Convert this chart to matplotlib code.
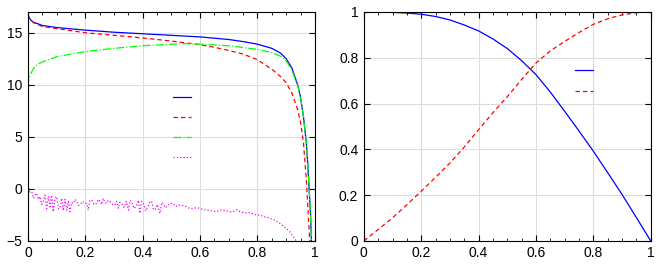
import matplotlib
matplotlib.use('agg')
import matplotlib.pyplot as plt
from matplotlib.ticker import MultipleLocator

plt.rcParams['font.family'] = ['Liberation Sans', 'DejaVu Sans']

# left panel
xb = [0, 0.005, 0.01, 0.02, 0.05, 0.1, 0.2, 0.3, 0.4, 0.5, 0.6, 0.7, 0.75, 0.8, 0.85,
      0.88, 0.9, 0.92, 0.94, 0.95, 0.96, 0.97, 0.975, 0.98, 0.985, 0.988]
yb = [16.7, 16.4, 16.2, 16.0, 15.7, 15.5, 15.25, 15.05, 14.9, 14.75, 14.6, 14.35, 14.15,
      13.9, 13.5, 13.05, 12.5, 11.6, 10.0, 8.8, 7.0, 4.5, 2.5, 0.0, -2.5, -5.0]

xr = [0, 0.005, 0.01, 0.02, 0.05, 0.1, 0.2, 0.3, 0.4, 0.5, 0.6, 0.65, 0.7, 0.75, 0.8,
      0.85, 0.88, 0.9, 0.92, 0.94, 0.95, 0.96, 0.97, 0.975, 0.98, 0.982]
yr = [16.7, 16.4, 16.2, 15.95, 15.6, 15.4, 15.0, 14.75, 14.5, 14.2, 13.85, 13.6, 13.3,
      12.95, 12.4, 11.5, 10.8, 10.2, 9.2, 7.6, 6.4, 4.5, 1.0, -1.5, -4.0, -5.0]

xg = [0, 0.003, 0.01, 0.02, 0.03, 0.05, 0.1, 0.15, 0.2, 0.3, 0.4, 0.5, 0.55, 0.6, 0.7,
      0.8, 0.85, 0.88, 0.9, 0.92, 0.94, 0.95, 0.96, 0.97, 0.975, 0.98, 0.985, 0.988]
yg = [9.8, 10.6, 11.1, 11.6, 11.9, 12.2, 12.7, 12.95, 13.2, 13.5, 13.75, 13.9, 13.95,
      13.9, 13.75, 13.4, 13.1, 12.75, 12.3, 11.4, 9.9, 8.8, 7.0, 4.5, 2.5, 0.0, -2.5, -5.0]

xm = [0, 0.006, 0.013, 0.019, 0.025, 0.030, 0.036, 0.042, 0.048, 0.053, 0.059, 0.065,
      0.071, 0.077, 0.082, 0.088, 0.094, 0.10, 0.106, 0.111, 0.117, 0.123, 0.129, 0.135,
      0.141, 0.146, 0.152, 0.158, 0.164, 0.17, 0.176, 0.181, 0.19, 0.198, 0.204, 0.21,
      0.216, 0.222, 0.23, 0.239, 0.245, 0.251, 0.257, 0.262, 0.268, 0.274, 0.28, 0.286,
      0.295, 0.303, 0.309, 0.315, 0.32, 0.326, 0.335, 0.343, 0.35, 0.356, 0.361, 0.37,
      0.379, 0.385, 0.39, 0.396, 0.402, 0.41, 0.419, 0.425, 0.431, 0.437, 0.443, 0.45,
      0.46, 0.466, 0.472, 0.478, 0.483, 0.495, 0.506, 0.515, 0.524, 0.54, 0.553, 0.565,
      0.576, 0.588, 0.599, 0.61, 0.623, 0.64, 0.657, 0.675, 0.692, 0.705, 0.715, 0.728,
      0.739, 0.755, 0.774, 0.785, 0.797, 0.81, 0.82, 0.83, 0.843, 0.86, 0.878, 0.895,
      0.913, 0.922, 0.93, 0.936]
ym = [0.4, -0.3, -0.26, -0.9, -0.58, -0.42, -1.0, -0.74, -1.5, -1.23, -0.6, -1.9,
      -0.7, -1.71, -0.6, -2.19, -0.9, -0.74, -1.9, -1.87, -0.9, -2.1, -1.0, -2.03,
      -1.2, -2.19, -1.3, -1.39, -1.0, -1.23, -1.6, -1.55, -1.2, -1.4, -1.39, -2.03,
      -1.1, -1.06, -1.5, -1.39, -1.0, -1.23, -1.5, -0.9, -1.3, -1.39, -1.1, -1.23,
      -1.5, -1.55, -1.2, -1.87, -1.3, -1.39, -1.8, -1.2, -2.03, -1.1, -1.23, -1.9,
      -1.55, -1.1, -2.35, -1.2, -1.39, -2.1, -1.71, -1.2, -1.23, -1.9, -2.03, -1.5,
      -2.35, -1.3, -1.39, -1.8, -1.71, -1.4, -1.39, -1.7, -1.55, -1.6, -1.71, -1.9,
      -1.87, -1.8, -1.87, -2.0, -2.03, -2.1, -2.19, -2.0, -2.13, -2.2, -2.19, -2.0,
      -2.19, -2.3, -2.29, -2.4, -2.52, -2.5, -2.68, -2.7, -2.84, -3.0, -3.32, -3.7,
      -4.13, -4.5, -4.77, -5.1]

# right panel
xs = [0, 0.05, 0.1, 0.15, 0.2, 0.25, 0.3, 0.35, 0.4, 0.45, 0.5, 0.55, 0.6, 0.65, 0.7,
      0.75, 0.8, 0.85, 0.9, 0.95, 1.0]
ys_blue = [1.0, 1.0, 0.998, 0.995, 0.99, 0.98, 0.965, 0.943, 0.917, 0.882, 0.84,
           0.787, 0.726, 0.65, 0.566, 0.48, 0.392, 0.298, 0.203, 0.102, 0.0]
ys_red = [0.0, 0.05, 0.101, 0.158, 0.217, 0.278, 0.34, 0.41, 0.486, 0.56, 0.63, 0.705,
          0.777, 0.83, 0.871, 0.91, 0.946, 0.97, 0.987, 0.997, 1.0]

fig = plt.figure(figsize=(6.64, 2.71), dpi=100)
ax1 = fig.add_axes([0.0422, 0.111, 0.432, 0.845])
ax2 = fig.add_axes([0.548, 0.111, 0.432, 0.845])

lw = 0.9
dash = (0, (3.5, 2.5))
h1, = ax1.plot(xb, yb, color='#0000ff', lw=lw)
h2, = ax1.plot(xr, yr, color='#ff0000', lw=lw, ls=dash)
h3, = ax1.plot(xg, yg, color='#00ff00', lw=lw, ls='-.')
h4, = ax1.plot(xm, ym, color='#ff00ff', lw=lw, ls=':')
ax1.set_xlim(0, 1)
ax1.set_ylim(-5, 17)
ax1.yaxis.set_major_locator(MultipleLocator(5))
ax1.legend([h1, h2, h3, h4], ['', '', '', ''], loc='upper left',
           bbox_to_anchor=(0.463, 0.71), frameon=False, handlelength=1.25,
           labelspacing=0.44)

g1, = ax2.plot(xs, ys_blue, color='#0000ff', lw=lw)
g2, = ax2.plot(xs, ys_red, color='#ff0000', lw=lw, ls=dash)
ax2.set_xlim(0, 1)
ax2.set_ylim(0, 1)
ax2.yaxis.set_major_locator(MultipleLocator(0.2))
ax2.yaxis.set_major_formatter(plt.FuncFormatter(lambda v, p: '%g' % v))
ax2.legend([g1, g2], ['', ''], loc='upper left',
           bbox_to_anchor=(0.693, 0.826), frameon=False, handlelength=1.25,
           labelspacing=0.44)

for ax in (ax1, ax2):
    ax.xaxis.set_major_locator(MultipleLocator(0.2))
    ax.xaxis.set_minor_locator(MultipleLocator(0.05))
    ax.xaxis.set_major_formatter(plt.FuncFormatter(lambda v, p: '%g' % v))
    ax.grid(True, color='#dcdcdc', lw=0.8)
    ax.set_axisbelow(True)
    ax.tick_params(which='both', direction='in', top=True, right=True,
                   labelsize=10, pad=4)
    ax.tick_params(which='major', length=4)
    ax.tick_params(which='minor', length=2.5)
    for s in ax.spines.values():
        s.set_linewidth(0.8)

plt.savefig('out.png', dpi=100)
